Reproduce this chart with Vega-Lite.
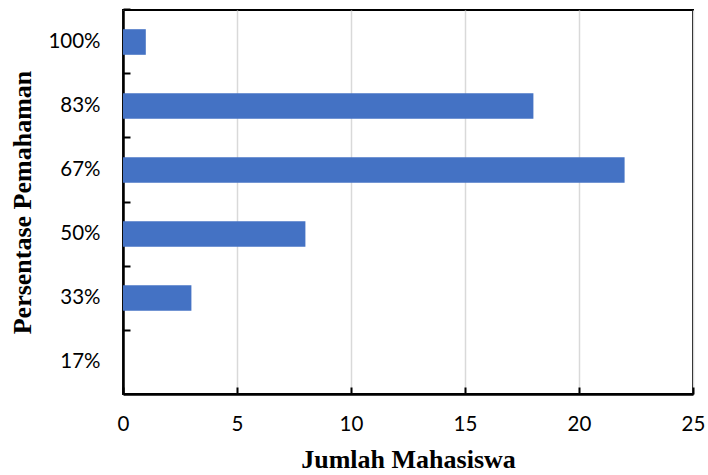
{
  "$schema": "https://vega.github.io/schema/vega-lite/v6.json",
  "autosize": "none",
  "width": 570,
  "height": 384,
  "padding": {"left": 123, "top": 10, "right": 15, "bottom": 81},
  "background": "white",
  "config": {
    "view": {"stroke": "black", "strokeWidth": 2},
    "axis": {"labelFont": "Lato", "labelFontSize": 20.5, "labelColor": "black", "titleFont": "Liberation Serif", "titleFontSize": 26, "titleFontWeight": "bold", "titleColor": "black", "domainColor": "black", "domainWidth": 2.5, "tickColor": "black", "tickWidth": 2}
  },
  "data": {"values": [
    {"persen": "100%", "jumlah": 1},
    {"persen": "83%", "jumlah": 18},
    {"persen": "67%", "jumlah": 22},
    {"persen": "50%", "jumlah": 8},
    {"persen": "33%", "jumlah": 3},
    {"persen": "17%", "jumlah": 0}
  ]},
  "mark": {"type": "bar", "color": "#4472C4"},
  "encoding": {
    "y": {"field": "persen", "type": "nominal", "sort": ["100%", "83%", "67%", "50%", "33%", "17%"],
      "scale": {"paddingInner": 0.6, "paddingOuter": 0.3},
      "axis": {"title": "Persentase Pemahaman", "titlePadding": 12, "bandPosition": -0.75, "tickSize": -7, "labelPadding": 30, "grid": false}},
    "x": {"field": "jumlah", "type": "quantitative", "scale": {"domain": [0, 25], "nice": false},
      "axis": {"title": "Jumlah Mahasiswa", "values": [0, 5, 10, 15, 20, 25], "labelFlush": false, "tickSize": -7, "labelPadding": 27, "titlePadding": 12, "grid": true, "gridColor": "#d9d9d9", "gridWidth": 1.5}}
  }
}
